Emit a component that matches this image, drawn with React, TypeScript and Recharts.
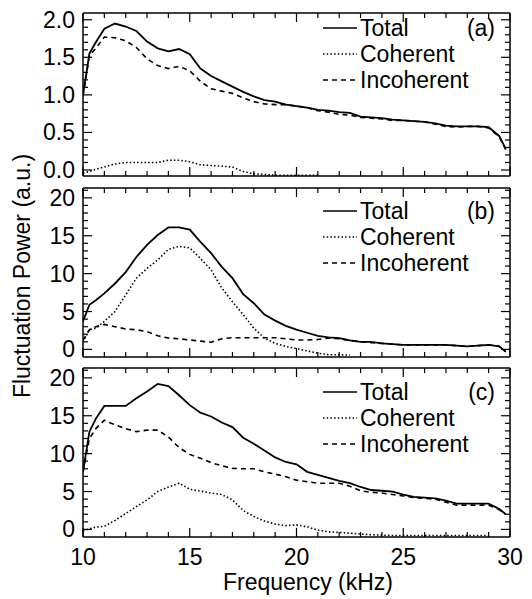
import React from "react";
import { LineChart, Line, XAxis, YAxis, Legend } from "recharts";

const FONT = '"Liberation Sans", Arial, Helvetica, sans-serif';

// frequency samples (kHz), shared by all three panels
const freq = [10, 10.3, 10.6, 11, 11.5, 12, 12.5, 13, 13.5, 14, 14.5, 15, 15.5, 16, 16.5, 17, 17.5, 18, 18.5, 19, 19.5, 20, 20.5, 21, 21.5, 22, 22.5, 23, 23.5, 24, 24.5, 25, 25.5, 26, 26.5, 27, 27.5, 28, 28.5, 29, 29.5, 29.8];

// (a)
const totalA = [1.0, 1.55, 1.7, 1.88, 1.95, 1.91, 1.85, 1.71, 1.62, 1.58, 1.61, 1.54, 1.35, 1.25, 1.18, 1.11, 1.04, 0.98, 0.93, 0.91, 0.87, 0.85, 0.83, 0.8, 0.79, 0.77, 0.76, 0.71, 0.7, 0.69, 0.67, 0.66, 0.65, 0.64, 0.62, 0.59, 0.58, 0.58, 0.58, 0.57, 0.45, 0.28];
const coherentA = [-0.04, -0.02, 0.01, 0.04, 0.08, 0.1, 0.1, 0.1, 0.1, 0.13, 0.13, 0.11, 0.07, 0.06, 0.05, 0.04, -0.02, -0.05, -0.06, -0.07, -0.07, -0.07, -0.07, -0.07];
const incoherentA = [0.98, 1.52, 1.62, 1.77, 1.76, 1.72, 1.63, 1.48, 1.39, 1.35, 1.38, 1.32, 1.18, 1.08, 1.05, 1.02, 0.96, 0.91, 0.88, 0.87, 0.87, 0.85, 0.83, 0.79, 0.77, 0.74, 0.73, 0.7, 0.69, 0.68, 0.66, 0.66, 0.65, 0.64, 0.61, 0.58, 0.57, 0.58, 0.58, 0.56, 0.44, 0.27];

// (b)
const totalB = [3.7, 5.9, 6.5, 7.4, 8.7, 10.2, 12.2, 13.8, 15.1, 16.1, 16.1, 15.8, 14.2, 12.7, 10.9, 9.4, 7.3, 6.1, 4.6, 3.8, 3.1, 2.6, 2.2, 1.8, 1.6, 1.5, 1.2, 1.0, 1.0, 0.8, 0.7, 0.6, 0.6, 0.6, 0.6, 0.6, 0.5, 0.4, 0.5, 0.6, 0.4, -0.3];
const coherentB = [1.0, 2.6, 2.8, 3.7, 5.0, 7.2, 9.4, 10.7, 11.8, 13.2, 13.6, 13.4, 12.0, 10.5, 8.1, 6.3, 4.6, 2.8, 1.5, 0.8, 0.4, 0.1, -0.2, -0.5, -0.7, -0.7, -0.75];
const incoherentB = [1.2, 2.6, 3.0, 3.3, 3.0, 2.7, 2.6, 2.35, 1.8, 1.5, 1.4, 1.25, 1.1, 0.95, 1.4, 1.55, 1.55, 1.55, 1.55, 1.55, 1.4, 1.25, 1.25, 1.3, 1.5, 1.4, 1.2, 1.0, 0.9, 0.8, 0.7, 0.6, 0.6, 0.6, 0.6, 0.6, 0.5, 0.4, 0.5, 0.6, 0.4, -0.3];

// (c)
const totalC = [7.6, 12.9, 14.6, 16.3, 16.3, 16.3, 17.3, 18.2, 19.2, 18.9, 17.7, 16.4, 15.4, 14.9, 14.1, 13.5, 12.1, 11.3, 10.4, 9.5, 8.9, 8.6, 7.6, 7.2, 6.8, 6.4, 6.1, 5.6, 5.2, 5.1, 5.0, 4.6, 4.3, 4.2, 4.1, 3.8, 3.4, 3.4, 3.4, 3.4, 2.7, 2.0];
const coherentC = [-0.2, 0.1, 0.3, 0.4, 1.2, 2.1, 3.0, 3.9, 5.0, 5.6, 6.1, 5.3, 5.05, 4.8, 4.6, 3.9, 2.5, 1.7, 1.1, 0.7, 0.5, 0.6, 0.35, -0.1, -0.3, -0.4, -0.5, -0.6, -0.7, -0.75, -0.8, -0.8, -0.8, -0.8, -0.8, -0.8, -0.8, -0.8, -0.8, -0.8];
const incoherentC = [7.6, 12.0, 13.3, 14.4, 13.8, 13.3, 12.9, 13.1, 13.1, 12.2, 10.8, 9.9, 9.4, 8.8, 8.4, 8.05, 8.0, 8.0, 7.6, 7.3, 6.95, 6.5, 6.3, 6.1, 6.1, 6.1, 5.7, 5.1, 4.9, 4.8, 4.6, 4.4, 4.2, 4.1, 4.0, 3.6, 3.2, 3.2, 3.2, 3.2, 2.6, 2.0];

const xMajor = [10, 15, 20, 25, 30];
const yMajorA = [0, 0.5, 1, 1.5, 2];
const yMajorBC = [0, 5, 10, 15, 20];

const range = (a: number, b: number, s: number) => {
  const out: number[] = [];
  for (let v = a; v <= b + 1e-9; v += s) out.push(+v.toFixed(2));
  return out;
};
const xMinor = range(10, 30, 1);
const yMinorA = range(0, 2.05, 0.1);
const yMinorBC = range(0, 21, 1);

const DOT = "1.5 2.2";
const DASH = "5 4";

const rows = (t: number[], c: number[], inc: number[]) =>
  freq.map((f, i) => ({
    f,
    total: t[i] ?? null,
    coherent: c[i] ?? null,
    incoherent: inc[i] ?? null,
  }));

// plot boxes: (a) y 13-176, (b) y 188-357, (c) y 368-537, x 83-510
const panels = [
  { tag: "(a)", data: rows(totalA, coherentA, incoherentA), domain: [-0.08, 2.09], majors: yMajorA, minors: yMinorA, fmt: (v: number) => v.toFixed(1), top: 0, height: 188, mTop: 13, mBottom: 12, legendY: 28, xLabels: false },
  { tag: "(b)", data: rows(totalB, coherentB, incoherentB), domain: [-1, 21.3], majors: yMajorBC, minors: yMinorBC, fmt: (v: number) => String(v), top: 180, height: 188, mTop: 8, mBottom: 11, legendY: 31, xLabels: false },
  { tag: "(c)", data: rows(totalC, coherentC, incoherentC), domain: [-1, 21.3], majors: yMajorBC, minors: yMinorBC, fmt: (v: number) => String(v), top: 360, height: 239, mTop: 8, mBottom: 62, legendY: 32, xLabels: true },
];

const isMajor = (majors: number[], v: number) => majors.some((m) => Math.abs(m - v) < 1e-6);

function makeTick(side: string, majors: number[], fmt?: (v: number) => string) {
  return (props: any) => {
    const { x, y, payload } = props;
    const major = isMajor(majors, payload.value);
    const len = major ? 9 : 5;
    let ln;
    if (side === "left") ln = <line x1={x} x2={x + len} y1={y} y2={y} />;
    else if (side === "right") ln = <line x1={x} x2={x - len} y1={y} y2={y} />;
    else if (side === "top") ln = <line x1={x} x2={x} y1={y} y2={y + len} />;
    else ln = <line x1={x} x2={x} y1={y} y2={y - len} />;
    return (
      <g stroke="#000" strokeWidth={1.2}>
        {ln}
        {major && fmt && side === "left" && (
          <text x={x - 8} y={y + 8} textAnchor="end" fontSize={23} fontFamily={FONT} fill="#000" stroke="none">
            {fmt(payload.value)}
          </text>
        )}
        {major && fmt && side === "bottom" && (
          <text x={x} y={y + 28} textAnchor="middle" fontSize={23} fontFamily={FONT} fill="#000" stroke="none">
            {fmt(payload.value)}
          </text>
        )}
      </g>
    );
  };
}

const legendItems = [
  { name: "Total", dash: undefined as string | undefined },
  { name: "Coherent", dash: DOT },
  { name: "Incoherent", dash: DASH },
];

function PanelLegend({ tag }: { tag: string }) {
  return (
    <div style={{ position: "relative", width: 172, fontFamily: FONT, fontSize: 23, color: "#000" }}>
      {legendItems.map((it, i) => (
        <div key={it.name} style={{ height: 26, display: "flex", alignItems: "center", lineHeight: "26px" }}>
          <svg width={35} height={6} style={{ display: "block" }}>
            <line x1={0} x2={34} y1={3} y2={3} stroke="#000" strokeWidth={1.6} strokeDasharray={it.dash} />
          </svg>
          <span style={{ marginLeft: 2 }}>{it.name}</span>
          {i === 0 && <span style={{ position: "absolute", right: 0 }}>{tag}</span>}
        </div>
      ))}
    </div>
  );
}

const axisLine = { stroke: "#000", strokeWidth: 1.5 };
const AX = 1; // thin axis band, subtracted from the margins

export default function App() {
  return (
    <div style={{ position: "absolute", left: 0, top: 0, width: 532, height: 599, background: "#fff" }}>
      {panels.map((p) => (
        <div key={p.tag} style={{ position: "absolute", left: 0, top: p.top }}>
          <LineChart width={532} height={p.height} data={p.data} margin={{ top: p.mTop - AX, right: 22 - AX, bottom: p.mBottom - AX, left: 83 - AX }}>
            <XAxis xAxisId="b" dataKey="f" type="number" orientation="bottom" domain={[10, 30]} allowDataOverflow ticks={xMinor} interval={0} height={AX} tickSize={0} tickMargin={0} tickLine={false} axisLine={axisLine} tick={makeTick("bottom", xMajor, p.xLabels ? (v) => String(v) : undefined)} />
            <XAxis xAxisId="t" dataKey="f" type="number" orientation="top" domain={[10, 30]} allowDataOverflow ticks={xMinor} interval={0} height={AX} tickSize={0} tickMargin={0} tickLine={false} axisLine={axisLine} tick={makeTick("top", xMajor)} />
            <YAxis yAxisId="l" type="number" orientation="left" domain={p.domain} allowDataOverflow ticks={p.minors} interval={0} width={AX} tickSize={0} tickMargin={0} tickLine={false} axisLine={axisLine} tick={makeTick("left", p.majors, p.fmt)} />
            <YAxis yAxisId="r" type="number" orientation="right" domain={p.domain} allowDataOverflow ticks={p.minors} interval={0} width={AX} tickSize={0} tickMargin={0} tickLine={false} axisLine={axisLine} tick={makeTick("right", p.majors)} />
            <Legend layout="horizontal" verticalAlign="middle" align="center" wrapperStyle={{ top: p.legendY - 13, left: 323, width: 172 }} content={() => <PanelLegend tag={p.tag} />} />
            <Line xAxisId="b" yAxisId="l" type="linear" dataKey="total" stroke="#000" strokeWidth={1.8} dot={false} isAnimationActive={false} />
            <Line xAxisId="b" yAxisId="l" type="linear" dataKey="coherent" stroke="#000" strokeWidth={1.6} strokeDasharray={DOT} dot={false} isAnimationActive={false} />
            <Line xAxisId="b" yAxisId="l" type="linear" dataKey="incoherent" stroke="#000" strokeWidth={1.6} strokeDasharray={DASH} dot={false} isAnimationActive={false} />
          </LineChart>
        </div>
      ))}
      <svg width={532} height={599} style={{ position: "absolute", left: 0, top: 0, pointerEvents: "none" }}>
        <text transform="translate(30,276) rotate(-90)" textAnchor="middle" fontSize={23} fontFamily={FONT} fill="#000">
          Fluctuation Power (a.u.)
        </text>
        <text x={308} y={590} textAnchor="middle" fontSize={23} fontFamily={FONT} fill="#000">
          Frequency (kHz)
        </text>
      </svg>
    </div>
  );
}
